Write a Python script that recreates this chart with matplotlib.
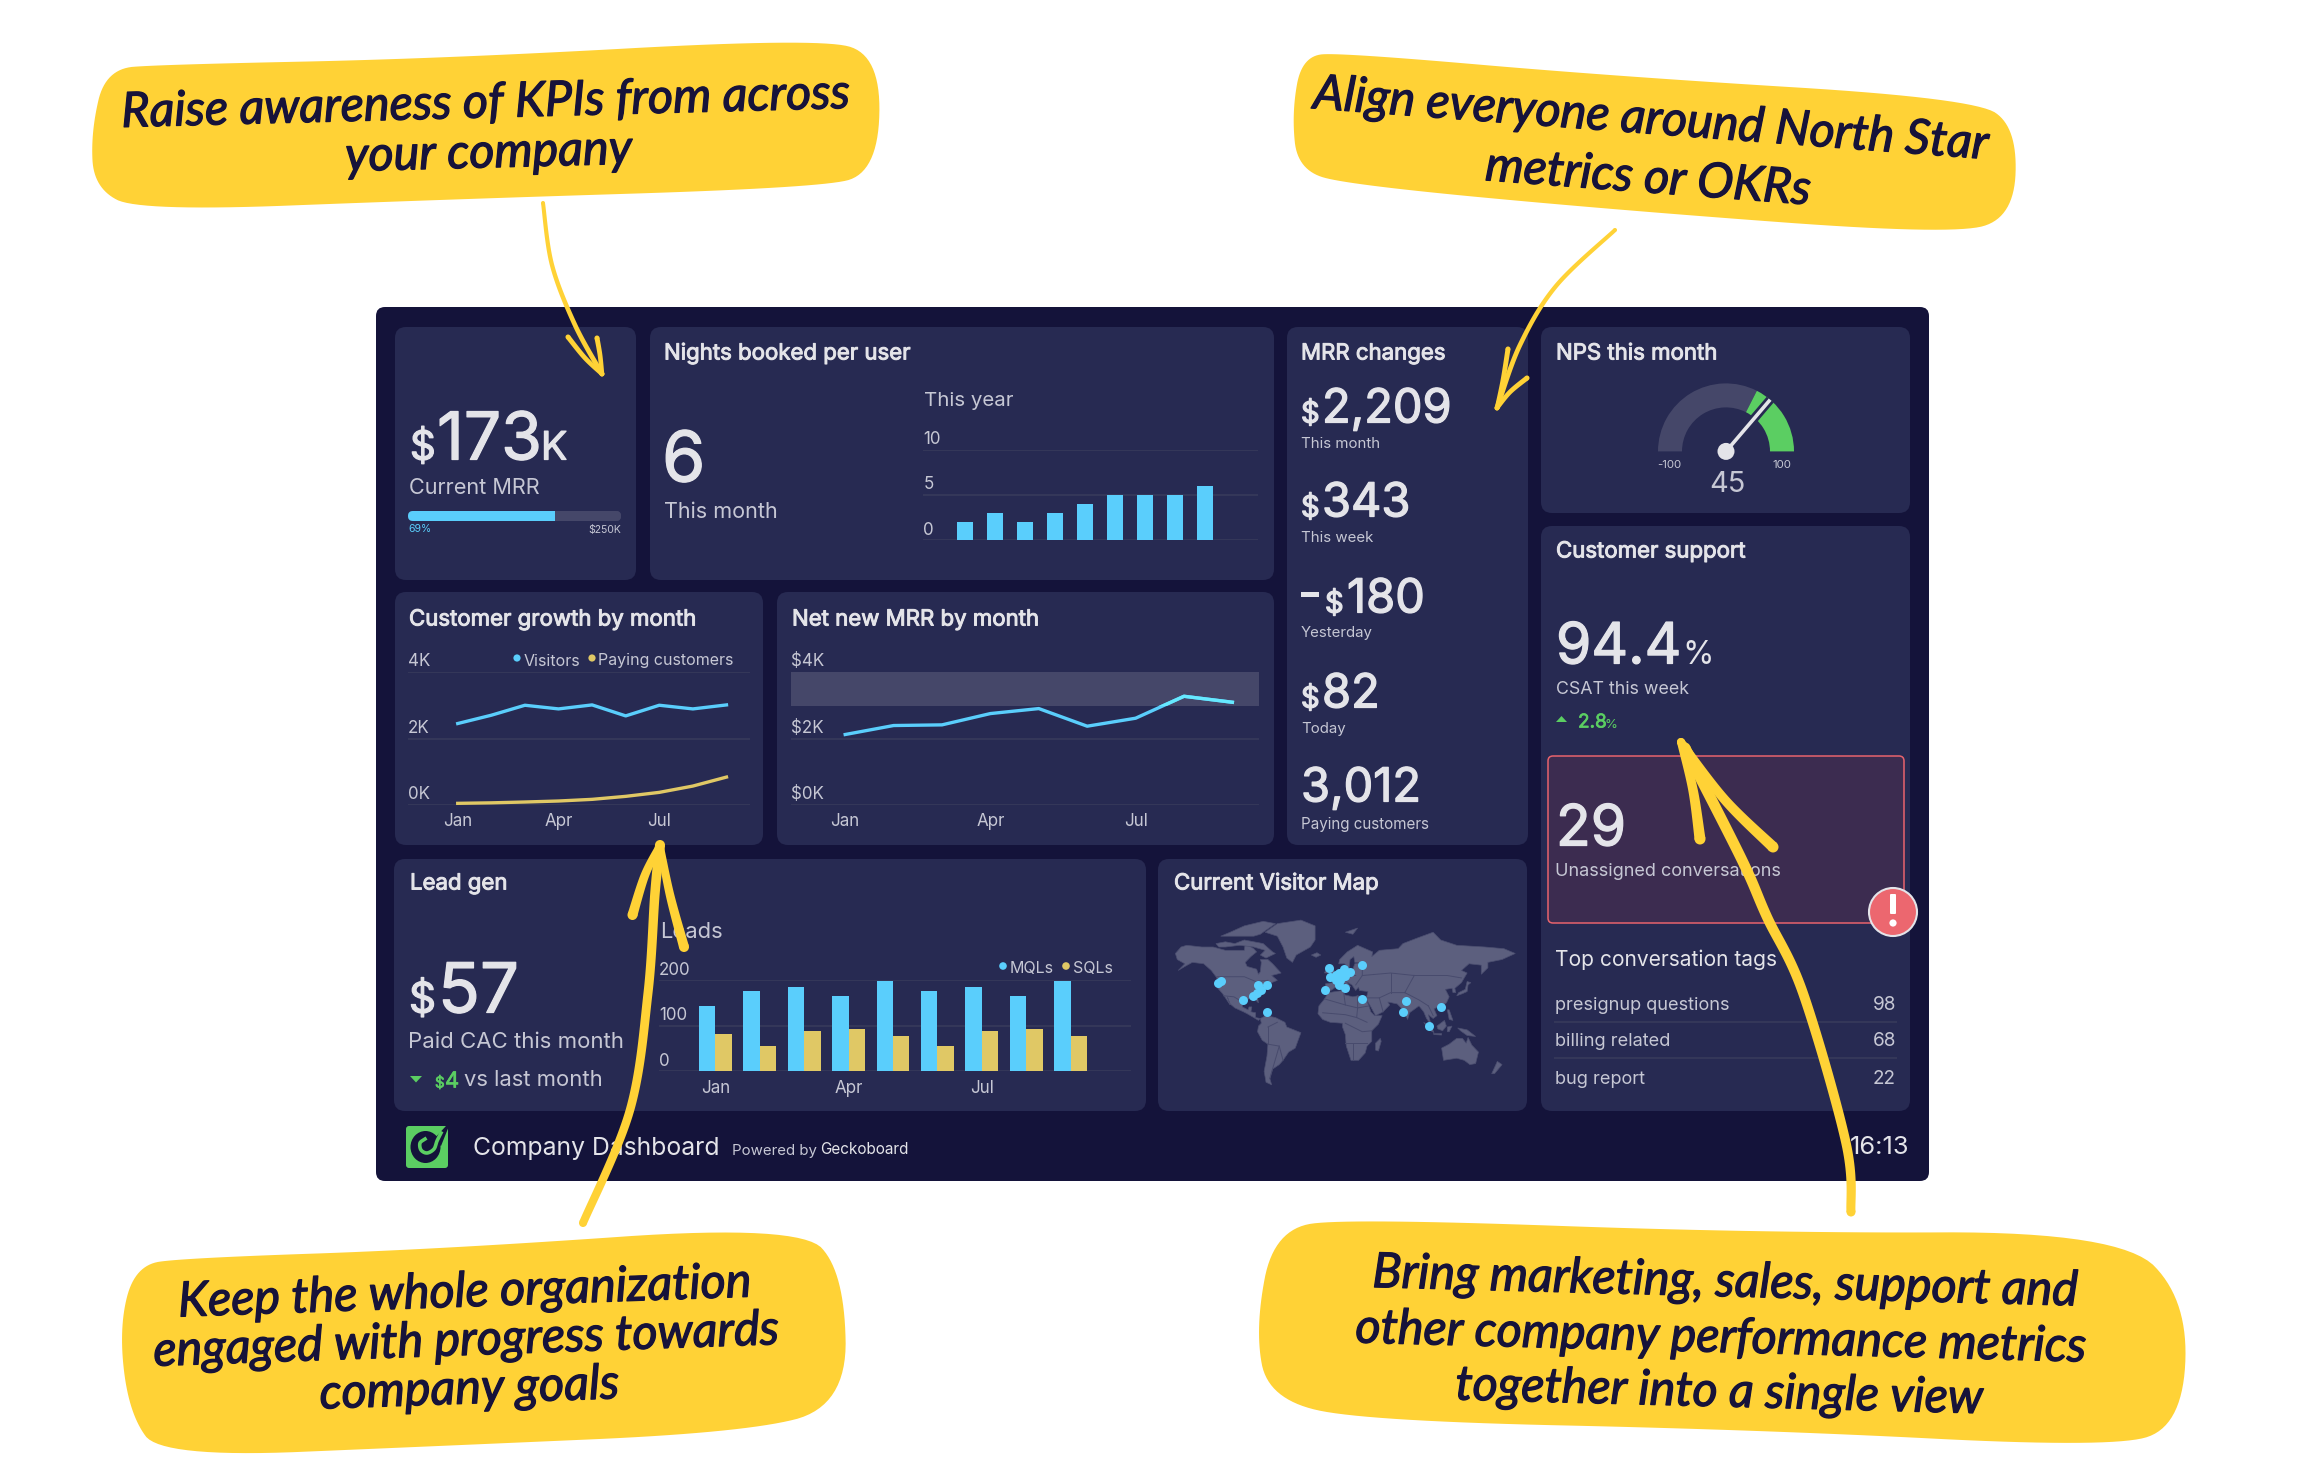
import numpy as np
import matplotlib
matplotlib.use("Agg")
import matplotlib.pyplot as plt
import matplotlib.patheffects as pe
from matplotlib.patches import FancyBboxPatch, Circle, Polygon, Wedge, Ellipse

W, H = 2302, 1478
S = 1.468  # callouts were measured on the 1568 wide view

plt.rcParams['font.family'] = ['Inter', 'Lato', 'DejaVu Sans']

# colours
BG = '#14133a'
CARD = '#272a52'
TXT = '#e4e4e9'
MUTED = '#c6c7d4'
GRID = '#343759'
BLUE = '#5acefc'
GOLD = '#e0c865'
GREEN = '#5bce62'
BAND = '#454769'
YEL = '#ffd236'
INK = '#17133a'

# chart data
months = ['Jan', 'Apr', 'Jul']
month_pos = [0, 3, 6]
nights = [2, 3, 2, 3, 4, 5, 5, 5, 6]
visitors = [2450, 2700, 3000, 2890, 3010, 2680, 3000, 2890, 3010]
paying = [50, 65, 90, 120, 170, 260, 380, 570, 840]
net_mrr = [2.12, 2.39, 2.41, 2.75, 2.90, 2.37, 2.61, 3.27, 3.09]
mqls = [143, 177, 185, 166, 198, 177, 185, 166, 198]
sqls = [81, 56, 89, 92, 78, 56, 89, 92, 78]
mrr_now, mrr_goal = 173, 250
nps = 45
nps_green_from = 30
mrr_changes = [('2,209', 'This month'), ('343', 'This week'), ('180', 'Yesterday'), ('82', 'Today')]
tags = [('presignup questions', 98), ('billing related', 68), ('bug report', 22)]

# visitor dots, lon / lat
dot_lon = [-123, -120, -96.5, -85.4, -81.6, -77.8, -80.5, -71.4, -71, -9.7, -4.9, 29.7, -4.3, 2.1, 10.3, 16.8,
           7, 5, 8, 12, 2, 6, 4.9, 11.4, 29.2, 76.7, 73.5, 101, 113]
dot_lat = [44, 45, 28, 31.7, 34.8, 37.5, 42, 41.5, 16, 37, 55.8, 58.2, 49, 50.5, 55, 53,
           49, 52, 51, 50, 46, 46, 42, 39.7, 29, 27, 16, 0.7, 21]

# rough land outlines, lon / lat
north_america = [(-168, 66), (-162, 70), (-156, 71), (-140, 70), (-128, 70), (-115, 68), (-108, 68), (-95, 68), (-94, 72),
                 (-85, 69), (-82, 67), (-88, 64), (-94, 60), (-92, 57), (-82, 55), (-80, 51), (-78, 53), (-77, 60), (-78, 62),
                 (-70, 62), (-65, 59), (-56, 52), (-66, 50), (-60, 46), (-66, 44), (-70, 42), (-74, 40), (-76, 35), (-81, 31),
                 (-80, 25), (-82, 27), (-84, 30), (-90, 29), (-97, 27), (-97, 21), (-91, 18), (-90, 21), (-87, 21), (-88, 16),
                 (-83, 15), (-83, 10), (-78, 9), (-80, 7), (-85, 10), (-92, 14), (-96, 16), (-105, 20), (-110, 24), (-113, 31),
                 (-110, 23), (-115, 30), (-118, 34), (-124, 40), (-124, 48), (-130, 54), (-138, 59), (-150, 60), (-158, 57),
                 (-165, 54), (-158, 59), (-166, 62)]
arctic_islands = [(-125, 72), (-115, 73), (-105, 72), (-95, 74), (-85, 73), (-75, 72), (-65, 67), (-62, 66), (-72, 63), (-78, 65),
                  (-73, 68), (-85, 70), (-100, 71), (-115, 70), (-122, 70)]
ellesmere = [(-120, 76), (-100, 76), (-85, 76), (-78, 77), (-62, 82), (-75, 83), (-95, 81), (-110, 78)]
greenland = [(-73, 78), (-60, 82), (-35, 83.5), (-20, 81), (-20, 74), (-25, 70), (-40, 65), (-44, 60), (-50, 63), (-54, 70), (-60, 76)]
south_america = [(-78, 9), (-72, 12), (-62, 10), (-52, 5), (-50, 0), (-35, -6), (-38, -14), (-41, -22), (-48, -26), (-54, -34),
                 (-58, -38), (-65, -42), (-68, -50), (-66, -55), (-72, -53), (-74, -44), (-71, -30), (-70, -18), (-76, -14),
                 (-81, -5), (-80, 1), (-77, 4)]
africa = [(-6, 35), (10, 37), (11, 33), (20, 31), (25, 32), (33, 31), (37, 22), (39, 16), (43, 12), (51, 12), (47, 3), (40, -4),
          (40, -15), (35, -20), (33, -27), (26, -34), (18, -34), (13, -20), (12, -8), (9, 0), (9, 4), (-4, 5), (-12, 8), (-17, 14), (-16, 22), (-10, 29)]
eurasia = [(-9, 37), (-9, 43), (-1, 44), (-4, 48), (3, 51), (8, 54), (9, 57), (11, 54), (20, 55), (22, 59), (30, 60), (22, 60), (21, 64),
           (17, 62), (16, 56), (11, 59), (5, 59), (6, 62), (14, 67), (25, 71), (41, 67), (40, 64), (48, 68), (68, 69), (73, 72),
           (88, 75), (105, 78), (113, 74), (130, 71), (160, 70), (180, 69), (192, 66), (178, 62), (163, 60), (163, 56), (156, 51),
           (156, 58), (143, 59), (135, 54), (141, 52), (135, 44), (128, 39), (129, 35), (126, 35), (125, 39), (118, 38), (122, 31),
           (119, 25), (110, 21), (106, 19), (109, 12), (105, 9), (100, 13), (103, 2), (98, 9), (95, 16), (90, 22), (80, 15), (78, 8),
           (73, 18), (67, 24), (57, 26), (59, 23), (52, 16), (44, 12), (39, 21), (34, 29), (36, 36), (27, 37), (26, 40), (23, 37),
           (19, 42), (13, 45), (18, 40), (12, 43), (6, 43), (0, 39), (-5, 36)]
australia = [(114, -22), (122, -18), (130, -12), (136, -12), (140, -17), (142, -11), (146, -19), (153, -26), (150, -37), (144, -38),
             (138, -34), (130, -32), (116, -34)]
britain = [(-5, 50), (1, 51), (0, 54), (-3, 58), (-6, 57), (-3, 54)]
ireland = [(-10, 52), (-6, 52), (-6, 55), (-9, 54)]
iceland = [(-24, 65), (-18, 66.5), (-14, 65), (-19, 63.5)]
japan = [(130, 32), (136, 34), (141, 36), (142, 42), (145, 44), (141, 45), (139, 38), (132, 35)]
madagascar = [(44, -24), (47, -25), (50, -15), (49, -12), (44, -17)]
sumatra = [(95, 5), (104, -2), (106, -6), (101, -3)]
borneo = [(109, 1), (117, 7), (119, 1), (115, -4), (110, -2)]
java = [(105, -7), (114, -7), (114, -8.5), (106, -8)]
sulawesi = [(120, 0), (125, 1), (122, -5), (120, -5)]
philippines = [(120, 18), (122, 18), (126, 7), (122, 8)]
new_guinea = [(131, -1), (141, -3), (150, -10), (141, -9), (134, -4)]
new_zealand = [(173, -35), (178, -38), (170, -46), (167, -46)]
svalbard = [(12, 78), (25, 80), (20, 77)]
land = [north_america, arctic_islands, ellesmere, greenland, south_america, africa, eurasia, australia, britain, ireland,
        iceland, japan, madagascar, sumatra, borneo, java, sulawesi, philippines, new_guinea, new_zealand, svalbard]
borders = [
    [(-124, 49), (-95, 49), (-83, 45), (-70, 46)], [(-117, 32), (-106, 31), (-97, 26)],
    [(-70, -18), (-58, -20), (-54, -34)], [(-70, 0), (-60, 5)], [(-70, -18), (-70, 0)], [(-58, -20), (-68, -50)],
    [(10, 37), (12, 23), (25, 20), (25, 32)], [(-12, 15), (12, 13), (24, 10), (35, 5)], [(12, 4), (30, -5), (40, -4)],
    [(12, -17), (35, -17)], [(20, -17), (20, -34)], [(-10, 29), (12, 23)], [(25, 20), (37, 22)], [(24, 10), (25, 20)],
    [(30, 50), (60, 52), (85, 50), (120, 50), (135, 48)], [(75, 35), (90, 28), (100, 22)], [(35, 30), (48, 30), (60, 35), (75, 35)],
    [(60, 52), (60, 35)], [(85, 50), (75, 35)], [(30, 60), (30, 50), (23, 42)], [(3, 43), (8, 48), (15, 50), (23, 50)],
    [(100, 22), (105, 12)], [(48, 30), (52, 16)],
]

fig = plt.figure(figsize=(W / 100, H / 100), dpi=100, facecolor='white')

base = fig.add_axes([0, 0, 1, 1], zorder=0)
top = fig.add_axes([0, 0, 1, 1], zorder=5)
for a in (base, top):
    a.set_xlim(0, W)
    a.set_ylim(H, 0)
    a.axis('off')
    a.patch.set_alpha(0)


def t(x, y, s, size, color=TXT, ha='left', heavy=0):
    # x, y in pixels, y is the baseline, size in pixels
    txt = base.text(x, y + 1.5, s, fontsize=size * 0.72, color=color, ha=ha, va='baseline')
    if heavy:
        txt.set_path_effects([pe.withStroke(linewidth=heavy, foreground=color)])
    return txt


def title(x, y, s):
    t(x, y, s, 22.2, heavy=0.7)


def big(x, y, s, size):
    t(x, y, s, size, heavy=0.9)


def card(x0, y0, x1, y1, color=CARD, r=11, **kw):
    p = FancyBboxPatch((x0 + r, y0 + r), x1 - x0 - 2 * r, y1 - y0 - 2 * r,
                       boxstyle=f'round,pad={r},rounding_size={r}', fc=color, lw=kw.pop('lw', 0), **kw)
    base.add_patch(p)
    return p


def chart_ax(x0, y0, x1, y1):
    ax = fig.add_axes([x0 / W, 1 - y1 / H, (x1 - x0) / W, (y1 - y0) / H], zorder=2)
    ax.patch.set_alpha(0)
    for sp in ax.spines.values():
        sp.set_visible(False)
    return ax


def style_chart(ax, ticks, labels, size=17):
    ax.set_yticks(ticks)
    ax.set_yticklabels([])
    ax.grid(axis='y', color=GRID, lw=1.5)
    ax.set_axisbelow(True)
    ax.tick_params(length=0)
    for v, lab in zip(ticks, labels):
        ax.annotate(lab, (0, v), xycoords=ax.get_yaxis_transform(), xytext=(0, 1.2), textcoords='offset points',
                    fontsize=size * 0.72, color=MUTED, va='bottom', ha='left')


def set_months(ax):
    ax.set_xticks(month_pos)
    ax.set_xticklabels(months, fontsize=17 * 0.72, color=MUTED)
    ax.tick_params(axis='x', pad=6)


def smooth(pts, n=24):
    # Catmull-Rom through the given points
    p = np.array(pts, float)
    p = np.vstack([p[0], p, p[-1]])
    out = []
    u = np.linspace(0, 1, n, endpoint=False)[:, None]
    for i in range(1, len(p) - 2):
        a, b, c, d = p[i - 1], p[i], p[i + 1], p[i + 2]
        out.append(0.5 * (2 * b + (c - a) * u + (2 * a - 5 * b + 4 * c - d) * u ** 2 + (3 * b - a - 3 * c + d) * u ** 3))
    return np.vstack(out + [p[-2]])


def rounded(pts, rounds=4):
    # corner cutting, keeps the blob free of ripples
    p = np.array(pts, float)
    for _ in range(rounds):
        q = np.roll(p, -1, axis=0)
        p = np.column_stack([0.75 * p + 0.25 * q, 0.25 * p + 0.75 * q]).reshape(-1, 2)
    return p


def stroke(pts, w0, w1):
    # hand drawn stroke with a width going from w0 to w1
    c = smooth(pts)
    d = np.gradient(c, axis=0)
    nrm = np.column_stack([-d[:, 1], d[:, 0]]) / (np.hypot(d[:, 0], d[:, 1])[:, None] + 1e-9)
    w = np.linspace(w0, w1, len(c))[:, None] / 2
    top.add_patch(Polygon(np.vstack([c + nrm * w, (c - nrm * w)[::-1]]), fc=YEL, lw=0, zorder=6))
    for q, r in ((c[0], w0 / 2), (c[-1], w1 / 2)):
        top.add_patch(Circle(q, r, fc=YEL, lw=0, zorder=6))


# dashboard frame
card(376, 307, 1929, 1181, color=BG, r=9)
card(395, 327, 636, 580)
card(650, 327, 1274, 580)
card(395, 592, 763, 845)
card(777, 592, 1274, 845)
card(1287, 327, 1528, 845)
card(1541, 327, 1910, 513)
card(1541, 526, 1910, 1111)
card(394, 859, 1146, 1111)
card(1158, 859, 1527, 1111)

# current MRR
big(410, 458, '$', 40)
big(437, 458, '173', 66)
big(541, 458, 'K', 39)
t(409, 493, 'Current MRR', 21.7, MUTED)
ax = chart_ax(408, 511, 621, 521)
track = card(408, 511, 621, 521, color=BAND, r=5)
for b in ax.barh([0], [mrr_goal], height=1, color=BAND):
    b.set_clip_path(track)
for b in ax.barh([0], [mrr_now], height=1, color=BLUE):
    b.set_clip_path(track)
ax.set_xlim(0, mrr_goal)
ax.set_ylim(-0.5, 0.5)
ax.axis('off')
t(408, 531, f'{mrr_now / mrr_goal * 100:.0f}%', 10.5, BLUE)
t(621, 531, f'${mrr_goal}K', 10.5, MUTED, ha='right')

# nights booked
title(664, 358, 'Nights booked per user')
big(662, 480, str(nights[-1]), 70)
t(664, 517, 'This month', 21.6, MUTED)
t(924, 404, 'This year', 20.5, MUTED)
ax = chart_ax(923.4, 449.6, 1258.5, 540.4)
ax.bar(range(len(nights)), nights, width=0.54, color=BLUE, zorder=3)
ax.set_xlim(-1.39, 9.78)
ax.set_ylim(0, 10)
style_chart(ax, [0, 5, 10], ['0', '5', '10'])
ax.set_xticks([])

# customer growth
title(409, 624, 'Customer growth by month')
ax = chart_ax(408, 672, 750, 805)
ax.plot(visitors, color=BLUE, lw=2.4, clip_on=False)
ax.plot(paying, color=GOLD, lw=2.4, clip_on=False)
ax.set_xlim(-1.48, 8.7)
ax.set_ylim(0, 4000)
style_chart(ax, [0, 2000, 4000], ['0K', '2K', '4K'])
set_months(ax)
base.add_patch(Circle((517, 658), 3.6, fc=BLUE, lw=0))
t(524, 664, 'Visitors', 16, MUTED)
base.add_patch(Circle((592, 658), 3.6, fc=GOLD, lw=0))
t(598, 664, 'Paying customers', 16, MUTED)

# net new MRR
title(792, 624, 'Net new MRR by month')
ax = chart_ax(791, 672, 1259, 805)
band = ax.axhspan(2.99, 4, color=BAND, lw=0, zorder=1)
ax.plot(net_mrr, color=BLUE, lw=2.4, zorder=3)
hi, = ax.plot(net_mrr, color='#66e9ff', lw=2.4, zorder=4)
hi.set_clip_path(band)
ax.set_xlim(-1.12, 8.55)
ax.set_ylim(0, 4)
style_chart(ax, [0, 2, 4], ['$0K', '$2K', '$4K'])
set_months(ax)

# MRR changes
title(1301, 358, 'MRR changes')
rows = [(421, 446), (515, 540), (611, 636), (706, 732)]
for (val, lab), (y0, y1) in zip(mrr_changes, rows):
    if val == '180':
        base.add_patch(plt.Rectangle((1301, y0 - 19), 18, 5, fc=TXT, lw=0))
        big(1325, y0, '$', 29)
        big(1347, y0, val, 47)
    else:
        big(1301, y0, '$', 29)
        big(1322, y0, val, 47)
    t(1301, y1, lab, 15, MUTED)
big(1301, 800, '3,012', 47)
t(1301, 827, 'Paying customers', 15.2, MUTED)

# NPS gauge
title(1556, 358, 'NPS this month')
ax = chart_ax(1726 - 72, 451.4 - 72, 1726 + 72, 451.4 + 14)
ax.set_xlim(-72 / 68, 72 / 68)
ax.set_ylim(-14 / 68, 72 / 68)
ax.axis('off')


def gauge_angle(v):
    return 180 - (v + 100) / 200 * 180


ax.add_patch(Wedge((0, 0), 1, gauge_angle(nps_green_from), 180, width=0.353, fc=BAND, lw=0))
ax.add_patch(Wedge((0, 0), 1, 0, gauge_angle(nps_green_from), width=0.353, fc=GREEN, lw=0))
na = np.radians(gauge_angle(nps))
ax.plot([0, np.cos(na)], [0, np.sin(na)], color=CARD, lw=6.5, solid_capstyle='butt')
ax.plot([0, np.cos(na)], [0, np.sin(na)], color=TXT, lw=2.6, solid_capstyle='butt')
ax.add_patch(Circle((0, 0), 0.125, fc=TXT, lw=0, zorder=5))
t(1669, 466, '-100', 11.5, MUTED, ha='center')
t(1782, 466, '100', 11.5, MUTED, ha='center')
t(1727, 491, str(nps), 29, MUTED, ha='center')

# customer support
title(1556, 556, 'Customer support')
big(1556, 662, '94.4', 57)
t(1682, 662, '%', 32)
t(1556, 692.5, 'CSAT this week', 17.8, MUTED)
base.add_patch(Polygon([(1556, 722), (1567, 722), (1561.5, 716)], fc=GREEN, lw=0))
t(1578, 726, '2.8', 19, GREEN, heavy=0.5)
t(1605, 726, '%', 13, GREEN)
card(1548, 756, 1904, 923, color='#3c2c50', r=5, ec='#e8636d', lw=1.1)
big(1556, 844, '29', 57)
t(1555, 875, 'Unassigned conversations', 18.1, MUTED)
base.add_patch(Circle((1893, 912), 24, fc='#ec676f', ec=TXT, lw=1.5, zorder=3))
base.add_patch(FancyBboxPatch((1891, 895), 4, 18, boxstyle='round,pad=1', fc='white', lw=0, zorder=4))
base.add_patch(Circle((1893, 923), 3.6, fc='white', lw=0, zorder=4))
t(1555, 965, 'Top conversation tags', 21, TXT)
for (name, n), y in zip(tags, [1009, 1045, 1083]):
    t(1555, y, name, 18.2, MUTED)
    t(1896, y, str(n), 19, MUTED, ha='right')
for y in (1022, 1058):
    base.plot([1555, 1896], [y, y], color=GRID, lw=1.5)

# lead gen
title(410, 888, 'Lead gen')
big(409, 1011, '$', 42)
big(438, 1011, '57', 69)
t(408, 1046, 'Paid CAC this month', 22.2, MUTED)
base.add_patch(Polygon([(410, 1076), (422, 1076), (416, 1082.5)], fc=GREEN, lw=0))
t(435, 1086, '$', 15, GREEN, heavy=0.5)
t(445, 1086, '4', 22, GREEN, heavy=0.5)
t(464, 1085, 'vs last month', 22, MUTED)
t(660, 936, 'Leads', 22, MUTED)
ax = chart_ax(659, 980.3, 1131, 1071.3)
x = np.arange(len(mqls))
ax.bar(x - 0.185, mqls, width=0.37, color=BLUE, zorder=3)
ax.bar(x + 0.185, sqls, width=0.37, color=GOLD, zorder=3)
ax.set_xlim(-1.27, 9.36)
ax.set_ylim(0, 200)
style_chart(ax, [0, 100, 200], ['0', '100', '200'])
set_months(ax)
base.add_patch(Circle((1003, 966), 3.8, fc=BLUE, lw=0))
t(1010, 972, 'MQLs', 16, MUTED)
base.add_patch(Circle((1066, 966), 3.8, fc=GOLD, lw=0))
t(1073, 972, 'SQLs', 16, MUTED)

# map
title(1174, 888, 'Current Visitor Map')


def miller(lat):
    return 1.25 * np.log(np.tan(np.pi / 4 + 0.4 * np.radians(lat)))


ax = chart_ax(1170, 915, 1520, 1095)
ax.set_xlim(-173.7, 197)
ax.set_ylim(-1.259, 2.074)
ax.axis('off')
for shape in land:
    lon, lat = np.array(shape).T
    ax.add_patch(Polygon(np.column_stack([lon, miller(lat)]), fc='#5c5f7e', ec='#4b4e70', lw=0.5))
for line in borders:
    lon, lat = np.array(line).T
    ax.plot(lon, miller(lat), color='#484b6d', lw=0.7)
ax.scatter(dot_lon, miller(np.array(dot_lat)), s=42, color=BLUE, lw=0, zorder=4)

# footer, logo first
card(406, 1126, 448, 1168, color=GREEN, r=3)
base.add_patch(Ellipse((425.5, 1147), 30, 32, fc=BG, lw=0))
base.add_patch(Polygon([(446, 1126), (449, 1126), (441, 1146), (433, 1140)], fc=BG, lw=0))
hook = smooth([(425, 1139), (420, 1143), (421, 1150), (427, 1153), (434, 1149), (437, 1141), (441, 1133)])
base.plot(hook[:, 0], hook[:, 1], color=GREEN, lw=2.6)
t(473, 1153, 'Company Dashboard', 24.7, TXT)
t(732, 1153, 'Powered by', 15, MUTED)
t(820, 1153, 'Geckoboard', 15.3, TXT)
t(1909, 1153, '16:13', 25.5, TXT, ha='right')

# callouts
blobs = [
    [(62, 90), (72, 47), (110, 44), (300, 40), (555, 26), (600, 37), (598, 118), (555, 128), (300, 136), (95, 144), (64, 128)],
    [(880, 77), (887, 38), (915, 36), (1100, 52), (1345, 67), (1374, 87), (1372, 148), (1330, 160), (1100, 143), (920, 126), (884, 116)],
    [(81, 905), (92, 862), (125, 857), (300, 851), (545, 834), (575, 867), (577, 958), (505, 976), (300, 985), (110, 993), (88, 963)],
    [(855, 905), (868, 837), (920, 830), (1200, 840), (1445, 839), (1491, 887), (1486, 973), (1435, 986), (1200, 974), (930, 968), (864, 953)],
]
for b in blobs:
    top.add_patch(Polygon(rounded(np.array(b) * S), fc=YEL, lw=0, zorder=4))

callouts = [
    ('Raise awareness of KPIs from across', 331, 80, 1.5),
    ('your company', 333, 114, 1.5),
    ('Align everyone around North Star', 1124, 91, -4.3),
    ('metrics or OKRs', 1122, 131, -4.3),
    ('Keep the whole organization', 317, 890, 2),
    ('engaged with progress towards', 318, 923, 2),
    ('company goals', 320, 956, 2),
    ('Bring marketing, sales, support and', 1175, 883, -1.5),
    ('other company performance metrics', 1172, 921, -1.5),
    ('together into a single view', 1171, 958, -1.5),
]
for s, cx, cy, rot in callouts:
    txt = top.text(cx * S, cy * S, s, fontsize=48.5 * 0.72, color=INK, ha='center', va='baseline', family='Lato',
                   style='italic', weight='normal', rotation=rot, rotation_mode='anchor', zorder=7)
    txt.set_path_effects([pe.withStroke(linewidth=0.9, foreground=INK)])

# arrows
stroke([(543, 203), (552, 265), (575, 325), (602, 374)], 4, 5)
stroke([(568, 337), (585, 358), (602, 374)], 5, 4.5)
stroke([(597, 338), (600, 355), (602, 374)], 5, 4.5)

stroke([(1615, 230), (1556, 286), (1520, 345), (1497, 408)], 4, 5)
stroke([(1508, 349), (1503, 380), (1497, 408)], 5, 4.5)
stroke([(1527, 378), (1510, 392), (1497, 408)], 5, 4.5)

stroke([(583, 1223), (630, 1110), (648, 993), (655, 893), (660, 845)], 8, 10)
stroke([(632.5, 915), (645, 875), (660, 845)], 10, 7)
stroke([(684, 947), (670, 895), (660, 845)], 10, 7)

stroke([(1851, 1212), (1846, 1143), (1803, 993), (1767, 917), (1742, 860), (1685, 748)], 9, 11)
stroke([(1700, 839), (1693, 790), (1681, 742)], 11, 8)
stroke([(1773, 847), (1725, 800), (1681, 742)], 11, 8)

fig.savefig('out.png', dpi=100)
